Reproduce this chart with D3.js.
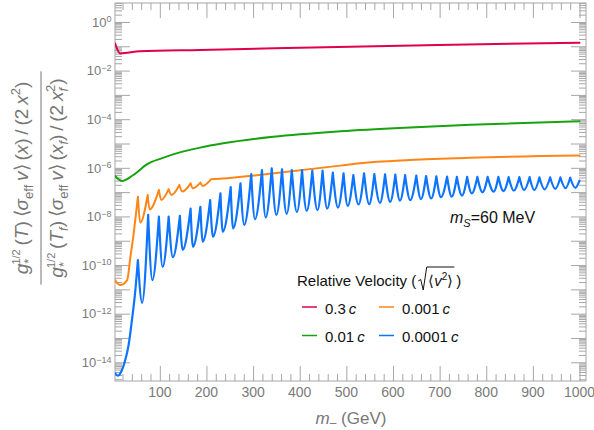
<!DOCTYPE html>
<html lang="en">
<head>
<meta charset="UTF-8">
<title>Sommerfeld ratio vs m_</title>
<script src="https://cdnjs.cloudflare.com/ajax/libs/d3/7.8.5/d3.min.js"></script>
<style>
  body { margin: 0; background: #fff; }
  svg { display: block; font-family: "Liberation Sans", Arial, sans-serif; }
</style>
</head>
<body>
<svg width="594" height="430"></svg>
<script>
// values (mass in GeV, ratio on a log axis)
var redMass = [4, 15, 57, 186, 401, 697, 1000];
var redVal  = [0.132, 0.051, 0.062, 0.071, 0.087, 0.112, 0.141];

var greenMass = [4, 19, 40, 57, 69, 105, 141, 184, 236, 343, 487, 637, 766, 1000];
var greenVal  = [4.6e-7, 2.9e-7, 4.6e-7, 8.1e-7, 1.26e-6, 2.5e-6, 4.2e-6, 6.6e-6, 1.02e-5, 1.9e-5, 3.2e-5, 4.6e-5, 5.9e-5, 8.3e-5];

// orange: smooth rise, cusped resonances, smooth tail
var orangeRiseMass = [4, 15, 30, 37, 44, 49];
var orangeRiseVal  = [2.4e-11, 1.5e-11, 2.4e-11, 2.2e-10, 2.0e-9, 1.35e-8];
var orangePeakMass = [53, 74, 98, 119, 142, 166, 187, 210];
var orangePeakVal  = [6.5e-8, 7.6e-8, 1.23e-7, 1.32e-7, 1.95e-7, 2.3e-7, 2.45e-7, 3.4e-7];
var orangeDipMass  = [58, 78, 103, 125, 148, 171, 192];
var orangeDipVal   = [5.5e-9, 1.95e-8, 4.7e-8, 7.6e-8, 1.05e-7, 1.45e-7, 1.8e-7];
var orangeTailMass = [234, 308, 487, 530, 637, 766, 1000];
var orangeTailVal  = [3.6e-7, 5.0e-7, 1.23e-6, 1.55e-6, 2.1e-6, 2.6e-6, 3.2e-6];

// blue
var blueRiseMass = [4, 10, 17, 26, 33, 40, 47];
var blueRiseVal  = [3.6e-15, 2.8e-15, 4.0e-15, 1.26e-14, 5.0e-14, 5.0e-13, 7.1e-12];
var bluePeakMass = [53, 75, 98, 119, 143, 166, 187, 208, 230, 252,
                    273, 296, 319, 340, 362, 383, 405, 427, 449, 471,
                    494, 515, 538, 560, 583, 605, 626, 650, 671, 693,
                    716, 737, 759, 781, 803, 826, 848, 871, 893, 914,
                    937, 959, 980];
var bluePeakVal  = [1.6e-10, 1.15e-8, 9.8e-9, 9.8e-9, 1.05e-8, 2.1e-8, 2.5e-8, 4.7e-8, 8.9e-8, 1.6e-7,
                    2.3e-7, 5.5e-7, 8.1e-7, 9.5e-7, 8.7e-7, 8.1e-7, 8.1e-7, 7.6e-7, 7.6e-7, 6.3e-7,
                    5.9e-7, 5.0e-7, 5.9e-7, 5.5e-7, 5.4e-7, 5.2e-7, 5.0e-7, 4.8e-7, 4.6e-7, 4.4e-7,
                    4.3e-7, 4.2e-7, 4.2e-7, 4.2e-7, 4.2e-7, 4.2e-7, 4.1e-7, 4.1e-7, 4.1e-7, 4.0e-7,
                    4.0e-7, 4.0e-7, 3.9e-7];
var blueDipMass  = [62, 84, 106, 128, 149, 171, 192, 214, 235, 257,
                    281, 304, 327, 350, 372, 394, 415, 438, 459, 482,
                    503, 526, 549, 572, 594, 615, 637, 660, 682, 703,
                    726, 748, 769, 792, 816, 837, 859, 881, 903, 925,
                    948, 970, 991];
var blueDipVal   = [2.8e-12, 2.4e-11, 8.3e-11, 2.1e-10, 4.2e-10, 5.6e-10, 9.1e-10, 1.45e-9, 2.3e-9, 3.2e-9,
                    4.5e-9, 7.6e-9, 9.1e-9, 1.15e-8, 1.26e-8, 1.5e-8, 1.7e-8, 1.8e-8, 2.1e-8, 2.3e-8,
                    2.7e-8, 3.1e-8, 3.2e-8, 3.6e-8, 4.0e-8, 4.5e-8, 4.7e-8, 5.2e-8, 5.5e-8, 6.2e-8,
                    6.5e-8, 7.2e-8, 8.9e-8, 9.8e-8, 1.05e-7, 1.1e-7, 1.15e-7, 1.2e-7, 1.2e-7, 1.3e-7,
                    1.35e-7, 1.45e-7, 1.5e-7];
var blueTailMass = [1000];
var blueTailVal  = [2.95e-7];

var xMajor = [100, 200, 300, 400, 500, 600, 700, 800, 900, 1000];
var yLabelExp = [0, -2, -4, -6, -8, -10, -12, -14];
var legendNames = ["0.3", "0.001", "0.01", "0.0001"];
var colors = {red: "#e0004b", orange: "#ff8517", green: "#16a30e", blue: "#0d74ff"};

var svg = d3.select("svg");
var L = 115, R = 586, T = 3, B = 381;

var x = d3.scaleLinear().domain([3.9, 1013.9]).range([L, R]);
var y = d3.scaleLog().domain([Math.pow(10, -14.77), Math.pow(10, 0.78)]).range([B, T]);

// tick values
var xMinor = d3.range(20, 1001, 20).filter(function(v) { return v % 100 !== 0; });
var yDec = d3.range(-14, 1).map(function(e) { return Math.pow(10, e); });
var yMinor = [];
for (var e = -15; e <= 0; e++) {
  for (var k = 2; k <= 9; k++) {
    var v = k * Math.pow(10, e);
    if (v > y.domain()[0] && v < y.domain()[1]) yMinor.push(v);
  }
}

var tickCol = "#a6a6a6";
function tickAxis(axis, tx, ty) {
  svg.append("g").attr("transform", "translate(" + tx + "," + ty + ")")
    .style("color", tickCol)
    .call(axis)
    .call(function(g) { g.select(".domain").remove(); g.selectAll("text").remove(); });
}
tickAxis(d3.axisBottom(x).tickValues(xMajor).tickSize(-15), 0, B);
tickAxis(d3.axisBottom(x).tickValues(xMinor).tickSize(-7), 0, B);
tickAxis(d3.axisTop(x).tickValues(xMajor).tickSize(-15), 0, T);
tickAxis(d3.axisTop(x).tickValues(xMinor).tickSize(-7), 0, T);
tickAxis(d3.axisLeft(y).tickValues(yDec).tickSize(-15), L, 0);
tickAxis(d3.axisLeft(y).tickValues(yMinor).tickSize(-7), L, 0);
tickAxis(d3.axisRight(y).tickValues(yDec).tickSize(-15), R, 0);
tickAxis(d3.axisRight(y).tickValues(yMinor).tickSize(-7), R, 0);

svg.append("rect").attr("x", L).attr("y", T).attr("width", R - L).attr("height", B - T)
  .attr("fill", "none").attr("stroke", tickCol).attr("stroke-width", 1);

// tick labels
var labCol = "#7a7a7a";
svg.append("g").selectAll("text").data(xMajor).join("text")
  .attr("x", function(d) { return x(d); })
  .attr("y", 397)
  .attr("text-anchor", "middle")
  .attr("fill", labCol).style("font-size", "14px")
  .text(function(d) { return d; });

// rich text helper: runs of {t, it, size, shift(up px), dx}
function rich(sel, runs, baseSize) {
  var cur = 0;
  runs.forEach(function(r) {
    var sh = r.shift || 0;
    var ts = sel.append("tspan").text(r.t)
      .attr("dy", cur - sh)
      .style("font-size", (r.size || baseSize) + "px");
    if (r.it) ts.style("font-style", "italic");
    if (r.dx) ts.attr("dx", r.dx);
    cur = sh;
  });
  return sel;
}

yLabelExp.forEach(function(ex) {
  var t = svg.append("text")
    .attr("x", 111.5).attr("y", y(Math.pow(10, ex)) + 4.8)
    .attr("text-anchor", "end").attr("fill", labCol);
  rich(t, [{t: "10"}, {t: ex === 0 ? "0" : "\u2212" + (-ex), size: 9, shift: 4.4}], 13);
});

// curves
var clip = svg.append("clipPath").attr("id", "plotclip")
  .append("rect").attr("x", L).attr("y", T).attr("width", R - L).attr("height", B - T);
var plot = svg.append("g").attr("clip-path", "url(#plotclip)");

var line = d3.line().x(function(d) { return x(d[0]); }).y(function(d) { return y(d[1]); })
  .curve(d3.curveMonotoneX);

function pairs(ms, vs) { return ms.map(function(m, i) { return [m, vs[i]]; }); }

// split at each resonance peak so peaks stay sharp
function segments(riseM, riseV, peakM, peakV, dipM, dipV, tailM, tailV) {
  var segs = [];
  var cur = pairs(riseM, riseV);
  for (var i = 0; i < peakM.length; i++) {
    var p = [peakM[i], peakV[i]];
    cur.push(p);
    segs.push(cur);
    cur = [p];
    if (i < dipM.length) cur.push([dipM[i], dipV[i]]);
  }
  tailM.forEach(function(m, i) { cur.push([m, tailV[i]]); });
  if (cur.length > 1) segs.push(cur);
  return segs.map(line).join("");
}

function drawPath(d, col, w) {
  plot.append("path").attr("d", d).attr("fill", "none").attr("stroke", col)
    .attr("stroke-width", w).attr("stroke-linejoin", "round").attr("stroke-linecap", "round");
}

drawPath(line(pairs(redMass, redVal)), colors.red, 2);
drawPath(line(pairs(greenMass, greenVal)), colors.green, 2);
drawPath(segments(orangeRiseMass, orangeRiseVal, orangePeakMass, orangePeakVal,
                  orangeDipMass, orangeDipVal, orangeTailMass, orangeTailVal), colors.orange, 2);
drawPath(segments(blueRiseMass, blueRiseVal, bluePeakMass, bluePeakVal,
                  blueDipMass, blueDipVal, blueTailMass, blueTailVal), colors.blue, 2.2);

// x axis title
var xt = svg.append("text").attr("x", 351).attr("y", 424).attr("text-anchor", "middle").attr("fill", "#777");
rich(xt, [{t: "m", it: true}, {t: "\u2013", size: 12, shift: -3}, {t: " (GeV)"}], 17);

// y axis title (fraction, rotated)
var yl = svg.append("g").attr("transform", "translate(0,178) rotate(-90)").attr("fill", "#777");
var num = yl.append("text").attr("x", 0).attr("y", 28).attr("text-anchor", "middle");
rich(num, [
  {t: "g", it: true}, {t: "*", size: 13, shift: -5}, {t: "1/2", size: 11, shift: 8, dx: -6},
  {t: "\u2009(", shift: 0}, {t: "T", it: true}, {t: ")\u2009\u27E8"}, {t: "\u03C3", it: true},
  {t: "eff", size: 13, shift: -5}, {t: "\u2009v", it: true, shift: 0}, {t: "\u27E9\u2009("}, {t: "x", it: true},
  {t: ")\u2009/\u2009(2\u2009"}, {t: "x", it: true}, {t: "2", size: 13, shift: 8}, {t: ")", shift: 0}
], 19);
var den = yl.append("text").attr("x", 0).attr("y", 63).attr("text-anchor", "middle");
rich(den, [
  {t: "g", it: true}, {t: "*", size: 13, shift: -5}, {t: "1/2", size: 11, shift: 8, dx: -6},
  {t: "\u2009(", shift: 0}, {t: "T", it: true}, {t: "f", it: true, size: 13, shift: -5}, {t: ")\u2009\u27E8", shift: 0},
  {t: "\u03C3", it: true}, {t: "eff", size: 13, shift: -5}, {t: "\u2009v", it: true, shift: 0},
  {t: "\u27E9\u2009("}, {t: "x", it: true}, {t: "f", it: true, size: 13, shift: -5}, {t: ")\u2009/\u2009(2\u2009", shift: 0},
  {t: "x", it: true}, {t: "f", it: true, size: 13, shift: -5}, {t: "2", size: 13, shift: 8, dx: -4},
  {t: ")", shift: 0}
], 19);
var half = Math.max(num.node().getComputedTextLength(), den.node().getComputedTextLength()) / 2 + 2;
yl.append("line").attr("x1", -half).attr("x2", half).attr("y1", 41).attr("y2", 41)
  .attr("stroke", "#777").attr("stroke-width", 1);

// m_S annotation
var ms = svg.append("text").attr("x", 450).attr("y", 223).attr("fill", "#111");
rich(ms, [{t: "m", it: true}, {t: "S", it: true, size: 11, shift: -4}, {t: "=60 MeV", shift: 0}], 16);

// legend
var lg = svg.append("g").attr("fill", "#111").style("font-size", "15px");
var t1 = lg.append("text").attr("x", 297).attr("y", 285.7).text("Relative Velocity (");
var x1 = 297 + t1.node().getComputedTextLength();
var inner = lg.append("text").attr("x", x1 + 12).attr("y", 285.7);
rich(inner, [{t: "\u27E8"}, {t: "v", it: true}, {t: "2", size: 10, shift: 6}, {t: "\u27E9", shift: 0}], 15);
var x2 = x1 + 12 + inner.node().getComputedTextLength();
lg.append("path")
  .attr("d", "M" + (x1 + 2) + ",281 L" + (x1 + 4.5) + ",279.5 L" + (x1 + 7) + ",290 L" + (x1 + 10.5) + ",267 L" + (x2 + 1) + ",267")
  .attr("fill", "none").attr("stroke", "#111").attr("stroke-width", 1);
lg.append("text").attr("x", x2 + 3).attr("y", 285.7).text(")");

var legendCols = [colors.red, colors.orange, colors.green, colors.blue];
var lx = [302, 379], ly = [307, 335.5];
legendNames.forEach(function(nm, i) {
  var cx = lx[i % 2], cy = ly[Math.floor(i / 2)];
  lg.append("line").attr("x1", cx).attr("x2", cx + 15).attr("y1", cy).attr("y2", cy)
    .attr("stroke", legendCols[i]).attr("stroke-width", 1.5);
  var tt = lg.append("text").attr("x", cx + 23).attr("y", cy + 6.5);
  rich(tt, [{t: nm + "\u2009"}, {t: "c", it: true}], 15);
});
</script>
</body>
</html>
